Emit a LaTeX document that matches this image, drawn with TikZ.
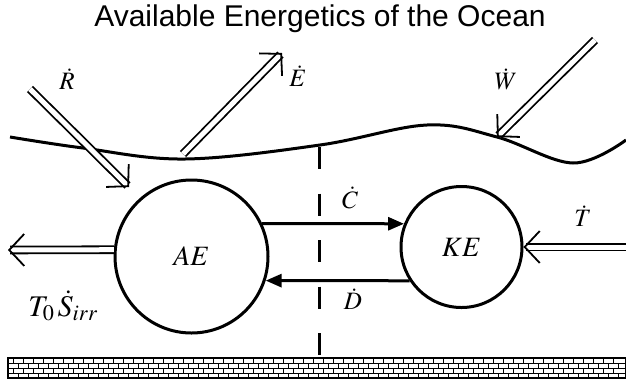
\documentclass[tikz,border=0pt]{standalone}
\usepackage{mathptmx}
\usepackage[no-math]{fontspec}
\newfontfamily\titlefont{Liberation Sans}
\usetikzlibrary{arrows.meta}

\begin{document}
\begin{tikzpicture}[
  x=1pt, y=-1pt,
  pool/.style={draw, circle, line width=3pt, inner sep=0pt},
  flow/.style={line width=3pt, -{Triangle[length=16pt, width=13pt]}},
  flux/.style={double, double distance=5pt, line width=1.8pt,
               -{Straight Barb[line width=1.8pt, length=15pt, width=32pt]}},
  lbl/.style={font=\fontsize{25}{29}\selectfont},
  big/.style={font=\fontsize{28}{32}\selectfont},
  brick/.style={line width=0.8pt}
]
\useasboundingbox (0,0) rectangle (626,381);
\node[font=\titlefont\fontsize{30}{34}\selectfont] (title) at (320,19) {Available Energetics of the Ocean};

% sea surface
\draw[line width=3pt] plot[smooth, tension=0.6] coordinates
  {(10,137) (83,148) (185,159) (320,145) (427,125) (497,137) (573,163) (626,140)};

% reservoirs
\node[pool, minimum size=153pt] (AE) at (191.5,256.5) {};
\node[pool, minimum size=121pt] (KE) at (461.5,247) {};
\node[big] at (AE.center) {$AE$};
\node[big] at (KE.center) {$KE$};

% conversion
\draw[flow] (AE.25) -- (KE.158);
\draw[flow] (KE.213) -- (AE.-18);
\draw[line width=3pt, dash pattern=on 22pt off 24.5pt] (319,147) -- (319,355);
\node[lbl] (C) at (350,198) {$\dot{C}$};
\node[lbl] (D) at (353,299) {$\dot{D}$};

% boundary fluxes
\coordinate (Rs) at (30,89);
\coordinate (Rt) at (129,187);
\coordinate (Es) at (183,154);
\coordinate (Et) at (282,53);
\coordinate (Ws) at (595,40);
\coordinate (Wt) at (497,137);
\coordinate (Ts) at (630,247);
\coordinate (St) at (8,250);
\draw[flux] (Rs) -- (Rt);
\draw[flux] (Es) -- (Et);
\draw[flux] (Ws) -- (Wt);
\draw[flux] (Ts) -- (KE.east);
\draw[flux] (AE.175) -- (St);
\node[lbl] (R) at (67,79) {$\dot{R}$};
\node[lbl] (E) at (298,76) {$\dot{E}$};
\node[lbl] (W) at (506,79) {$\dot{W}$};
\node[lbl] (T) at (583,216) {$\dot{T}$};
\node[font=\fontsize{30}{34}\selectfont] (S) at (63,306) {$T_{0}\,\dot{S}_{irr}$};

% sea floor
\draw[line width=1.8pt] (8,358) rectangle (626,378);
\foreach \r in {1,2,3}
  \draw[brick] (8,358+5*\r) -- (626,358+5*\r);
\foreach \r in {0,1,2,3}{
  \pgfmathsetmacro\yt{358+5*\r}
  \pgfmathsetmacro\off{mod(\r,2)*5}
  \foreach \x in {13,23,...,620}
    \draw[brick] (\x+\off,\yt) -- ++(0,5);
}
\end{tikzpicture}
\end{document}
